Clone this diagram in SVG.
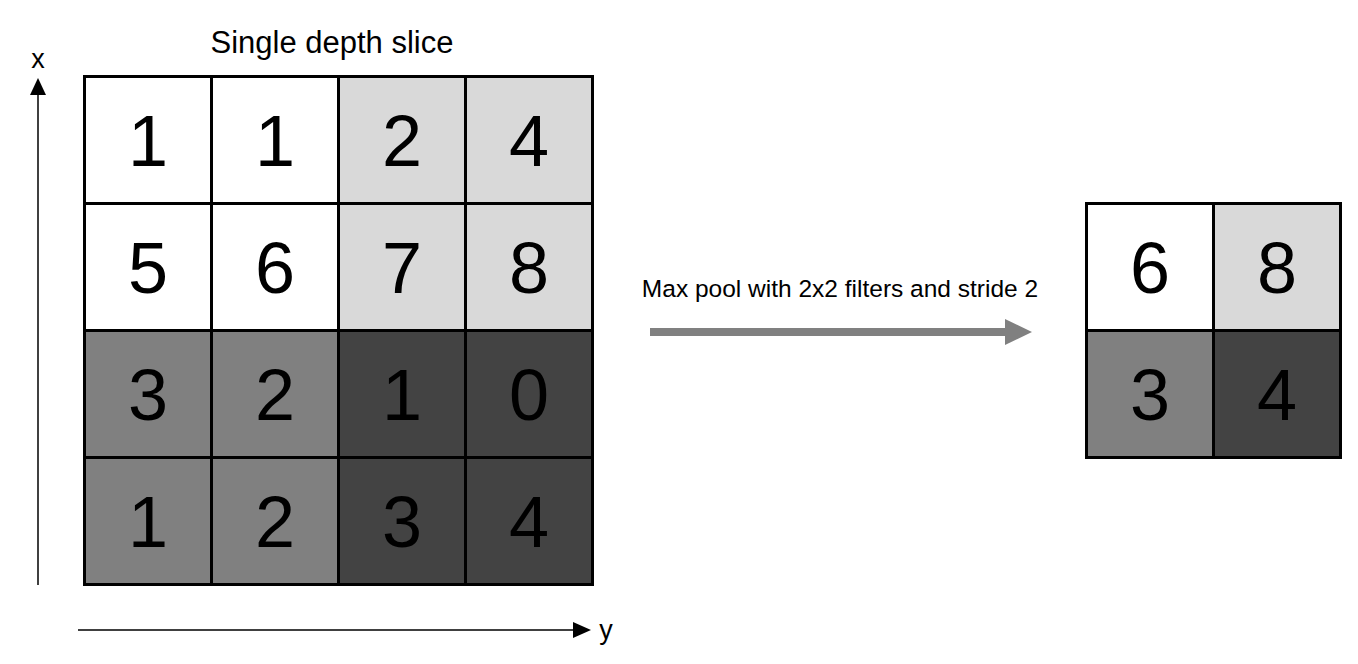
<svg xmlns="http://www.w3.org/2000/svg" width="1358" height="664" viewBox="0 0 1358 664">
<style>
.c{stroke:#000;stroke-width:3}
.w{fill:#fff}.l{fill:#d9d9d9}.m{fill:#808080}.d{fill:#434343}
.n{font-family:"Liberation Sans",Arial,sans-serif;font-size:72px;text-anchor:middle;fill:#000}
.t{font-family:"Liberation Sans",Arial,sans-serif;fill:#000}
</style>
<rect width="1358" height="664" fill="#fff"/>
<text class="t" x="332" y="53" font-size="31" text-anchor="middle">Single depth slice</text>
<g id="axes">
<line x1="38" y1="585" x2="38" y2="94" stroke="#000" stroke-width="1.5"/>
<polygon points="38,78 30,95 46,95" fill="#000"/>
<text class="t" x="38" y="68" font-size="27" text-anchor="middle">x</text>
<line x1="78" y1="630" x2="574" y2="630" stroke="#000" stroke-width="1.5"/>
<polygon points="591,630 573,622 573,638" fill="#000"/>
<text class="t" x="606" y="639" font-size="27" text-anchor="middle">y</text>
</g>
<g id="input">
<rect class="c w" x="84.5" y="76.5" width="127" height="127"/>
<rect class="c w" x="211.5" y="76.5" width="127" height="127"/>
<rect class="c l" x="338.5" y="76.5" width="127" height="127"/>
<rect class="c l" x="465.5" y="76.5" width="127" height="127"/>
<rect class="c w" x="84.5" y="203.5" width="127" height="127"/>
<rect class="c w" x="211.5" y="203.5" width="127" height="127"/>
<rect class="c l" x="338.5" y="203.5" width="127" height="127"/>
<rect class="c l" x="465.5" y="203.5" width="127" height="127"/>
<rect class="c m" x="84.5" y="330.5" width="127" height="127"/>
<rect class="c m" x="211.5" y="330.5" width="127" height="127"/>
<rect class="c d" x="338.5" y="330.5" width="127" height="127"/>
<rect class="c d" x="465.5" y="330.5" width="127" height="127"/>
<rect class="c m" x="84.5" y="457.5" width="127" height="127"/>
<rect class="c m" x="211.5" y="457.5" width="127" height="127"/>
<rect class="c d" x="338.5" y="457.5" width="127" height="127"/>
<rect class="c d" x="465.5" y="457.5" width="127" height="127"/>
<text class="n" x="148" y="166">1</text>
<text class="n" x="275" y="166">1</text>
<text class="n" x="402" y="166">2</text>
<text class="n" x="529" y="166">4</text>
<text class="n" x="148" y="293">5</text>
<text class="n" x="275" y="293">6</text>
<text class="n" x="402" y="293">7</text>
<text class="n" x="529" y="293">8</text>
<text class="n" x="148" y="420">3</text>
<text class="n" x="275" y="420">2</text>
<text class="n" x="402" y="420">1</text>
<text class="n" x="529" y="420">0</text>
<text class="n" x="148" y="547">1</text>
<text class="n" x="275" y="547">2</text>
<text class="n" x="402" y="547">3</text>
<text class="n" x="529" y="547">4</text>
</g>
<g id="connector">
<text class="t" x="840" y="297" font-size="24.5" text-anchor="middle">Max pool with 2x2 filters and stride 2</text>
<rect x="650" y="328" width="357" height="8" fill="#808080"/>
<polygon points="1032,332 1005,319 1005,345" fill="#808080"/>
</g>
<g id="output">
<rect class="c w" x="1086.5" y="203.5" width="127" height="127"/>
<rect class="c l" x="1213.5" y="203.5" width="127" height="127"/>
<rect class="c m" x="1086.5" y="330.5" width="127" height="127"/>
<rect class="c d" x="1213.5" y="330.5" width="127" height="127"/>
<text class="n" x="1150" y="293">6</text>
<text class="n" x="1277" y="293">8</text>
<text class="n" x="1150" y="420">3</text>
<text class="n" x="1277" y="420">4</text>
</g>
</svg>
